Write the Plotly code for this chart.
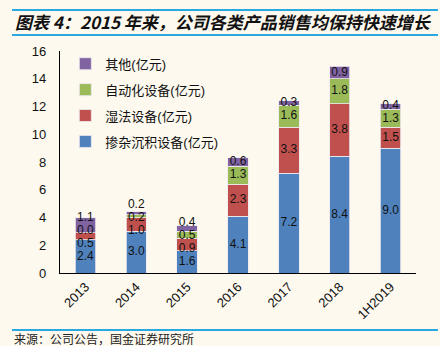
import plotly.graph_objects as go

categories = ["2013", "2014", "2015", "2016", "2017", "2018", "1H2019"]
doping = [2.4, 3.0, 1.6, 4.1, 7.2, 8.4, 9.0]
wet = [0.5, 1.0, 0.9, 2.3, 3.3, 3.8, 1.5]
auto = [0.0, 0.2, 0.5, 1.3, 1.6, 1.8, 1.3]
other = [1.1, 0.2, 0.4, 0.6, 0.3, 0.9, 0.4]

series = [
    ("掺杂沉积设备(亿元)", doping, "#4F81BD"),
    ("湿法设备(亿元)", wet, "#C0504D"),
    ("自动化设备(亿元)", auto, "#9BBB59"),
    ("其他(亿元)", other, "#8064A2"),
]

BG = "#FDF9EE"
LINE = "#2AA8E0"
FONT = "Liberation Sans, Noto Sans CJK SC, sans-serif"
LABEL_GAP = 0.92  # minimum label spacing in data units (about one text line)


def spread(centers, gap):
    """Keep labels ordered with a minimum gap, as close to centers as possible."""
    d = [c - i * gap for i, c in enumerate(centers)]
    blocks = []
    for v in d:
        blocks.append([v, 1])
        while len(blocks) > 1 and blocks[-2][0] / blocks[-2][1] > blocks[-1][0] / blocks[-1][1]:
            s, n = blocks.pop()
            blocks[-1][0] += s
            blocks[-1][1] += n
    q = []
    for s, n in blocks:
        q += [s / n] * n
    return [q[i] + i * gap for i in range(len(q))]


fig = go.Figure()
for i, (name, vals, color) in enumerate(series):
    fig.add_trace(go.Bar(
        x=categories, y=vals, name=name,
        marker=dict(color=color, line=dict(color="#EDE9F0", width=0.8)),
        legendgroup=name, legendrank=len(series) - i,
    ))

# label positions: segment centres, spread apart where segments are thin
label_y = [[0.0] * len(categories) for _ in series]
for j in range(len(categories)):
    base = 0.0
    centers = []
    for _, vals, _ in series:
        centers.append(base + vals[j] / 2.0)
        base += vals[j]
    pos = spread(centers, LABEL_GAP)
    for i in range(len(series)):
        label_y[i][j] = pos[i]

for i, (name, vals, color) in enumerate(series):
    fig.add_trace(go.Scatter(
        x=categories, y=label_y[i], mode="text",
        text=[f"{v:.1f}" for v in vals],
        textposition="middle center",
        textfont=dict(size=12, color="#111111", family=FONT),
        showlegend=False, hoverinfo="skip",
    ))

fig.update_layout(
    barmode="stack",
    bargap=0.6,
    width=440, height=346,
    margin=dict(l=60, r=24, t=51, b=73),
    paper_bgcolor=BG, plot_bgcolor=BG,
    font=dict(family=FONT, size=13, color="#111111"),
    showlegend=True,
    legend=dict(
        traceorder="grouped", x=0.015, y=1.01, xanchor="left", yanchor="top",
        bgcolor="rgba(0,0,0,0)", font=dict(size=13, family=FONT),
        itemwidth=30, tracegroupgap=6,
    ),
    xaxis=dict(
        showline=True, linecolor="#000000", linewidth=1.2,
        tickangle=-45, ticks="", tickfont=dict(size=13),
        showgrid=False,
    ),
    yaxis=dict(
        range=[0, 16], dtick=2, showline=True, linecolor="#000000", linewidth=1.2,
        ticks="", showgrid=False, zeroline=False, tickfont=dict(size=13),
        ticklabelstandoff=10,
    ),
)


def px_x(px):
    return (px - 60) / 356.0


def px_y(py):
    return (273 - py) / 222.0


for py in (10, 35, 330):
    fig.add_shape(type="line", xref="paper", yref="paper",
                  x0=px_x(12), x1=px_x(438), y0=px_y(py), y1=px_y(py),
                  line=dict(color=LINE, width=2))

fig.add_annotation(
    xref="paper", yref="paper", x=px_x(13), y=px_y(21), xanchor="left", yanchor="middle",
    text="<b><i>图表 4：2015 年来，公司各类产品销售均保持快速增长</i></b>",
    showarrow=False, font=dict(size=17, family="Noto Sans CJK SC, sans-serif", color="#111111"),
)
fig.add_annotation(
    xref="paper", yref="paper", x=px_x(12), y=px_y(338), xanchor="left", yanchor="middle",
    text="来源：公司公告，国金证券研究所",
    showarrow=False, font=dict(size=12, family="Noto Sans CJK SC, sans-serif", color="#222222"),
)

fig.write_html("out.html")
